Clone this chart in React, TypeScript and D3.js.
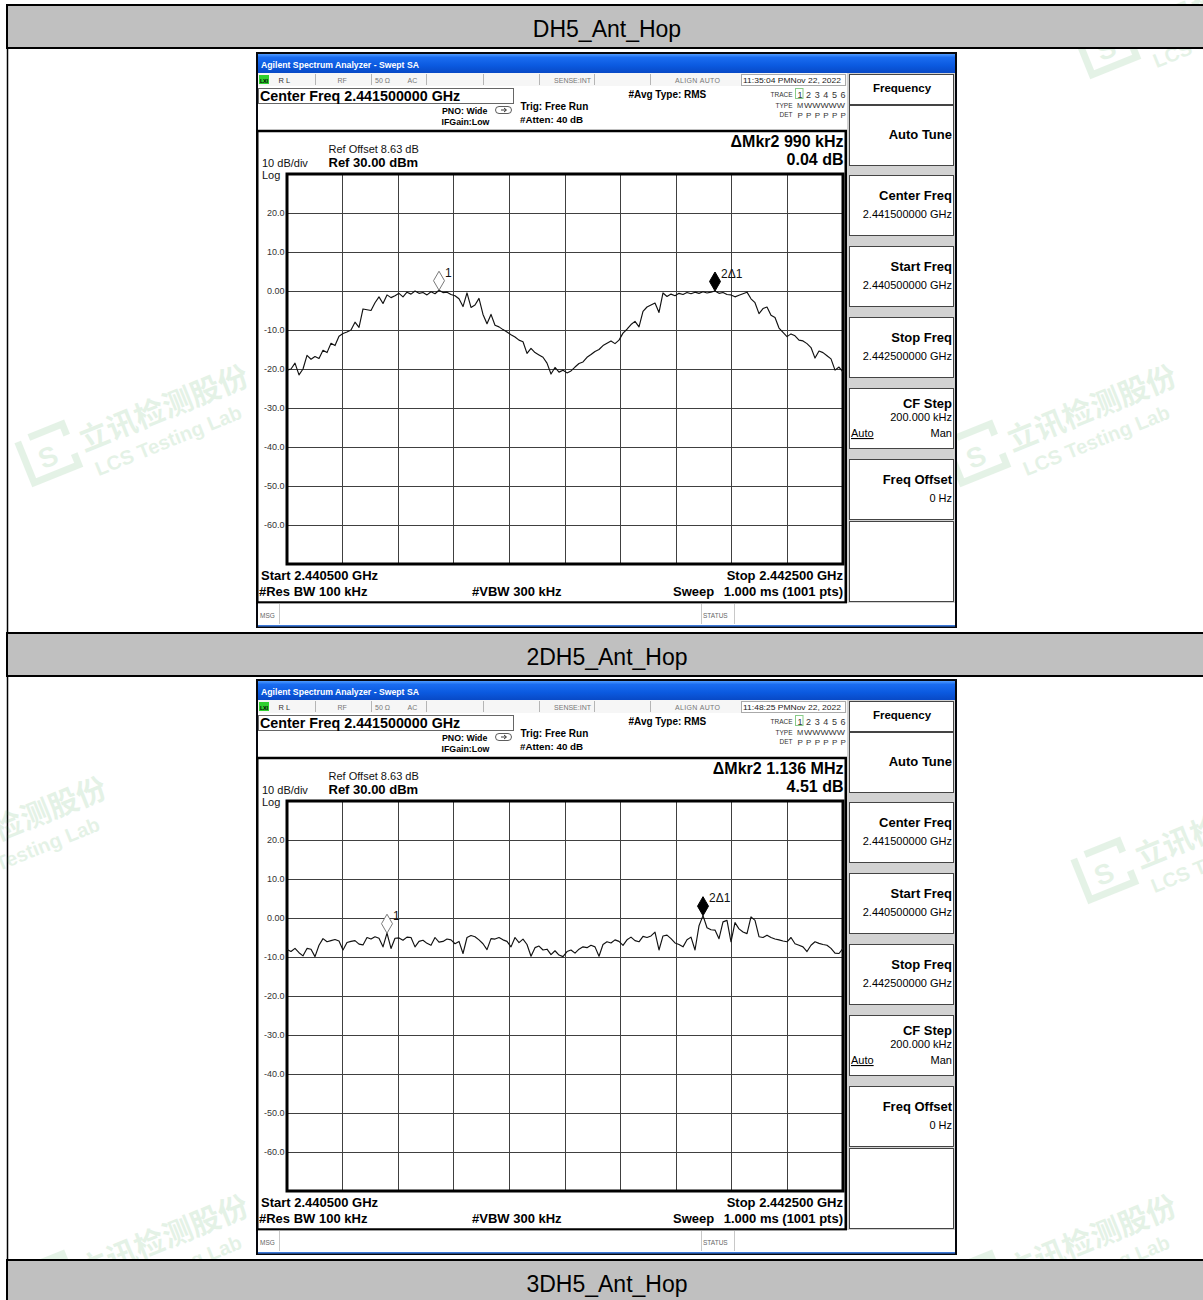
import { useEffect, useRef } from 'react';
import * as d3 from 'd3';

const FONT = "'Liberation Sans', Arial, Helvetica, sans-serif";

// report table
const SECTION_TITLES = ['DH5_Ant_Hop', '2DH5_Ant_Hop', '3DH5_Ant_Hop'];
const HEADER_TOPS = [5, 633, 1260];
const HEADER_H = 43;
const SCREEN_TOPS = [52, 679];
const SCREEN_X = 256;

// analyzer settings
const START_MHZ = 2440.5;
const STOP_MHZ = 2442.5;
const REF_DBM = 30;
const DB_PER_DIV = 10;
const X_DIVS = 10;
const Y_DIVS = 10;
const Y_TICKS = [20, 10, 0, -10, -20, -30, -40, -50, -60];
const Y_TICK_LABELS = ['20.0', '10.0', '0.00', '-10.0', '-20.0', '-30.0', '-40.0', '-50.0', '-60.0'];

const SOFTKEYS = [
  ['Center Freq', '2.441500000 GHz'],
  ['Start Freq', '2.440500000 GHz'],
  ['Stop Freq', '2.442500000 GHz'],
  ['CF Step', '200.000 kHz'],
  ['Freq Offset', '0 Hz'],
];

// trace 1 (DH5), evenly spaced over the span
const DH5_TRACE = [
  -20.3, -20.0, -18.5, -21.5, -20.0, -16.5, -17.5, -16.8, -17.3, -15.2,
  -15.8, -13.4, -14.0, -11.6, -10.9, -10.5, -10.0, -8.0, -9.3, -4.6,
  -4.8, -5.0, -3.0, -1.5, -3.2, -1.0, -1.7, -1.2, -0.6, -1.5,
  -0.3, -0.8, 0.0, -0.6, -0.4, -1.0, -0.2, -0.7, 0.2, -0.4,
  -0.3, -0.9, -1.2, -2.0, -4.0, -0.5, -4.2, -3.6, -1.9, -6.0,
  -8.4, -6.0, -8.8, -9.2, -9.9, -10.5, -11.2, -11.8, -12.6, -13.0,
  -16.0, -14.7, -15.8, -16.4, -17.0, -18.5, -21.3, -19.6, -20.8, -20.3,
  -21.0, -20.5, -19.5, -18.6, -18.2, -17.0, -16.3, -15.5, -15.0, -14.0,
  -13.4, -12.8, -13.5, -12.6, -10.8, -9.8, -8.6, -7.8, -9.2, -5.2,
  -4.1, -3.6, -3.1, -5.5, -0.5, -1.4, -0.8, -1.2, -0.6, -0.9,
  -0.4, -0.7, -0.3, -0.6, -0.2, -0.5, -0.3, 0.0, -0.6, -0.4,
  -0.9, -1.0, -1.5, -1.1, -0.7, -0.3, -2.0, -3.0, -5.8, -4.5,
  -4.1, -6.2, -6.8, -9.5, -10.6, -11.7, -11.0, -11.5, -12.6, -12.8,
  -13.5, -14.5, -17.2, -15.4, -15.8, -16.6, -17.4, -20.3, -19.5, -20.8,
];
const DH5_MARKERS = [38, 107];
const DH5_TIME = '11:35:04 PM';
const DH5_DELTA = ['ΔMkr2 990 kHz', '0.04 dB'];

// trace 2 (2DH5)
const DH5_2_TRACE = [
  -8.1, -8.6, -7.8, -8.9, -9.7, -7.8, -8.0, -9.9, -7.0, -5.3,
  -6.1, -5.8, -5.5, -5.9, -8.2, -6.3, -6.0, -5.8, -6.7, -6.9,
  -5.0, -5.4, -4.8, -5.2, -7.4, -3.9, -7.8, -5.2, -5.1, -5.7,
  -4.9, -5.0, -7.4, -6.0, -5.7, -6.5, -7.0, -5.0, -6.2, -6.0,
  -5.4, -5.6, -6.6, -6.0, -9.1, -5.0, -4.5, -4.8, -5.6, -6.6,
  -8.1, -5.3, -5.4, -5.0, -5.6, -6.0, -7.4, -5.0, -6.3, -5.4,
  -6.8, -9.8, -7.6, -7.2, -8.2, -8.0, -9.4, -8.4, -9.5, -9.9,
  -8.6, -8.2, -9.0, -8.0, -7.4, -7.6, -7.0, -7.4, -9.8, -6.8,
  -6.1, -6.4, -5.6, -6.0, -7.0, -5.6, -4.9, -5.8, -6.1, -4.7,
  -5.0, -4.6, -3.6, -8.2, -4.6, -4.4, -5.3, -6.4, -6.8, -7.4,
  -5.6, -4.9, -8.2, -2.0, 0.6, -2.5, -3.0, -3.1, -5.3, -1.0,
  -0.6, -6.1, -1.2, -2.8, -3.6, -4.0, 0.3, -0.6, -4.8, -5.0,
  -4.4, -5.0, -5.4, -5.6, -5.9, -6.1, -5.0, -6.6, -7.0, -7.4,
  -8.6, -7.0, -6.1, -6.5, -6.8, -7.0, -7.8, -9.0, -9.1, -7.8,
];
const DH5_2_MARKERS = [25, 104];
const DH5_2_TIME = '11:48:25 PM';
const DH5_2_DELTA = ['ΔMkr2 1.136 MHz', '4.51 dB'];

const WATERMARKS = [
  [32, 488], [960, 488], [-110, 900], [1088, 905], [32, 1318], [960, 1318], [1090, 80],
];

type Sel = d3.Selection<any, unknown, null, undefined>;

function txt(g: Sel, x: number, y: number, s: string, size: number, o: any = {}) {
  return g.append('text')
    .attr('x', x).attr('y', y)
    .attr('font-family', o.family || FONT)
    .attr('font-size', size)
    .attr('font-weight', o.bold ? 700 : 400)
    .attr('fill', o.fill || '#000')
    .attr('text-anchor', o.anchor || 'start')
    .text(s);
}

function drawWatermark(svg: Sel, x: number, y: number) {
  const c = '#3aa04a';
  const g = svg.append('g')
    .attr('transform', `translate(${x},${y}) rotate(-22)`)
    .attr('opacity', 0.13);
  g.append('path')
    .attr('d', 'M4,-48 L4,-4 L52,-4 L52,-16 M16,-48 L52,-48 L52,-36')
    .attr('fill', 'none').attr('stroke', c).attr('stroke-width', 7);
  txt(g, 17, -13, 'S', 28, { bold: true, fill: c });
  txt(g, 62, -14, '立讯检测股份', 30, { bold: true, fill: c, family: "'Noto Sans CJK SC', sans-serif" });
  txt(g, 66, 14, 'LCS Testing Lab', 20, { bold: true, fill: c });
}

function drawScreen(svg: Sel, oy: number, trace: number[], markers: number[], time: string, delta: string[]) {
  const g = svg.append('g').attr('transform', `translate(${SCREEN_X},${oy})`);
  const W = 701;
  const H = 576;

  g.append('rect').attr('width', W).attr('height', H).attr('fill', '#05070d');

  // title bar
  g.append('rect').attr('x', 2).attr('y', 2).attr('width', W - 4).attr('height', 19).attr('fill', 'url(#xpTitle)');
  txt(g, 5, 16, 'Agilent Spectrum Analyzer - Swept SA', 8.5, { bold: true, fill: '#fff' })
    .attr('textLength', 158).attr('lengthAdjust', 'spacingAndGlyphs');

  // body
  g.append('rect').attr('x', 2).attr('y', 21).attr('width', W - 4).attr('height', 552).attr('fill', '#fff');

  // status row
  g.append('rect').attr('x', 2).attr('y', 21).attr('width', 589).attr('height', 13).attr('fill', '#f6f6f6');
  [59, 115, 170, 227, 283, 338, 394].forEach(sx => {
    g.append('line').attr('x1', sx + 0.5).attr('x2', sx + 0.5).attr('y1', 22).attr('y2', 33)
      .attr('stroke', '#b5b5b5');
  });
  g.append('rect').attr('x', 3).attr('y', 23).attr('width', 10).attr('height', 9).attr('fill', '#2fcf2f');
  txt(g, 4, 30.5, 'LXI', 5.5, { bold: true }).attr('textLength', 8);
  txt(g, 22.5, 31, 'R L', 7.5, { fill: '#333' });
  txt(g, 81.5, 31, 'RF', 7, { fill: '#777' });
  txt(g, 119, 31, '50 Ω', 7, { fill: '#777' });
  txt(g, 151.5, 31, 'AC', 7, { fill: '#777' });
  txt(g, 335, 31, 'SENSE:INT', 7, { fill: '#777', anchor: 'end' });
  txt(g, 419, 31, 'ALIGN AUTO', 7, { fill: '#777' }).attr('textLength', 45);
  g.append('rect').attr('x', 485.5).attr('y', 22.5).attr('width', 104).attr('height', 11)
    .attr('fill', '#fff').attr('stroke', '#aaa');
  txt(g, 487, 31, `${time}Nov 22, 2022`, 7.5, { fill: '#222' })
    .attr('textLength', 98).attr('lengthAdjust', 'spacingAndGlyphs');

  // setup area
  g.append('rect').attr('x', 2.5).attr('y', 36.5).attr('width', 255).attr('height', 15)
    .attr('fill', '#fff').attr('stroke', '#666');
  txt(g, 4, 49, 'Center Freq 2.441500000 GHz', 14.3, { bold: true });
  txt(g, 186, 61.5, 'PNO: Wide', 8.8, { bold: true });
  txt(g, 185.5, 72.5, 'IFGain:Low', 8.8, { bold: true });
  g.append('rect').attr('x', 239.5).attr('y', 54.5).attr('width', 16).attr('height', 7).attr('rx', 3.5)
    .attr('fill', 'none').attr('stroke', '#333').attr('stroke-width', 0.8);
  g.append('path').attr('d', 'M245,58 L250,58 M248,56 L250.5,58 L248,60')
    .attr('fill', 'none').attr('stroke', '#222').attr('stroke-width', 0.9);
  txt(g, 264.5, 57.5, 'Trig: Free Run', 10, { bold: true });
  txt(g, 264, 71, '#Atten: 40 dB', 9.8, { bold: true });
  txt(g, 372.5, 46, '#Avg Type: RMS', 10, { bold: true });

  txt(g, 536.5, 45, 'TRACE', 6.5, { fill: '#333', anchor: 'end' });
  txt(g, 536.5, 55.5, 'TYPE', 6.5, { fill: '#333', anchor: 'end' });
  txt(g, 536.5, 65, 'DET', 6.5, { fill: '#333', anchor: 'end' });
  g.append('rect').attr('x', 539.5).attr('y', 36.5).attr('width', 7.5).attr('height', 10)
    .attr('fill', 'none').attr('stroke', '#8c8');
  d3.range(6).forEach(k => {
    const tx = 541.5 + k * 8.6;
    txt(g, tx, 45.5, String(k + 1), 9, { fill: '#333' });
    txt(g, tx, 65.5, 'P', 8, { fill: '#333' });
  });
  txt(g, 541, 55.5, 'M', 7.5, { fill: '#333' });
  txt(g, 548, 55.5, 'WWWWW', 7, { fill: '#333' }).attr('textLength', 41).attr('lengthAdjust', 'spacingAndGlyphs');

  // display frame
  g.append('rect').attr('x', 1.25).attr('y', 79).attr('width', 588.5).attr('height', 471.5)
    .attr('fill', '#fff').attr('stroke', '#000').attr('stroke-width', 2.5);

  txt(g, 72.5, 101, 'Ref Offset 8.63 dB', 11, { fill: '#111' });
  txt(g, 72.5, 115, 'Ref 30.00 dBm', 13, { bold: true });
  txt(g, 6, 115, '10 dB/div', 11, { fill: '#111' });
  txt(g, 6, 126.5, 'Log', 11, { fill: '#111' });
  txt(g, 587.5, 95, delta[0], 16, { bold: true, anchor: 'end' });
  txt(g, 587.5, 112.5, delta[1], 16, { bold: true, anchor: 'end' });

  // graticule
  const x = d3.scaleLinear().domain([START_MHZ, STOP_MHZ]).range([31, 587]);
  const y = d3.scaleLinear().domain([REF_DBM - Y_DIVS * DB_PER_DIV, REF_DBM]).range([512, 122]);
  const span = STOP_MHZ - START_MHZ;
  const grid = g.append('g').attr('stroke', '#404040').attr('stroke-width', 1).attr('shape-rendering', 'crispEdges');
  d3.range(1, X_DIVS).forEach(i => {
    const gx = x(START_MHZ + (i * span) / X_DIVS);
    grid.append('line').attr('x1', gx).attr('x2', gx).attr('y1', y(REF_DBM)).attr('y2', y(REF_DBM - Y_DIVS * DB_PER_DIV));
  });
  Y_TICKS.forEach((v, i) => {
    grid.append('line').attr('x1', x(START_MHZ)).attr('x2', x(STOP_MHZ)).attr('y1', y(v)).attr('y2', y(v));
    txt(g, 28.5, y(v) + 3.3, Y_TICK_LABELS[i], 9, { fill: '#333', anchor: 'end' });
  });
  g.append('rect').attr('x', x(START_MHZ)).attr('y', y(REF_DBM))
    .attr('width', x(STOP_MHZ) - x(START_MHZ))
    .attr('height', y(REF_DBM - Y_DIVS * DB_PER_DIV) - y(REF_DBM))
    .attr('fill', 'none').attr('stroke', '#000').attr('stroke-width', 3);

  // trace
  const freqOf = (i: number) => START_MHZ + (i * span) / (trace.length - 1);
  const line = d3.line<number>().x((_, i) => x(freqOf(i))).y(d => y(d));
  g.append('path').attr('d', line(trace) || '')
    .attr('fill', 'none').attr('stroke', '#111').attr('stroke-width', 1.15).attr('stroke-linejoin', 'round');

  // markers
  markers.forEach((mi, k) => {
    const mx = x(freqOf(mi));
    const my = y(trace[mi]);
    g.append('path')
      .attr('d', `M${mx},${my} L${mx + 5.5},${my - 9.5} L${mx},${my - 19} L${mx - 5.5},${my - 9.5} Z`)
      .attr('fill', k === 0 ? '#fff' : '#000')
      .attr('stroke', k === 0 ? '#7a7a7a' : '#000').attr('stroke-width', 1);
    txt(g, mx + 6, my - 13.5, k === 0 ? '1' : '2Δ1', 12, { fill: '#111' });
  });

  // bottom annotations
  txt(g, 5, 528, 'Start 2.440500 GHz', 13, { bold: true });
  txt(g, 3, 544, '#Res BW 100 kHz', 13, { bold: true });
  txt(g, 216, 544, '#VBW 300 kHz', 13, { bold: true });
  txt(g, 587, 528, 'Stop 2.442500 GHz', 13, { bold: true, anchor: 'end' });
  txt(g, 417, 544, 'Sweep', 13, { bold: true });
  txt(g, 587, 544, '1.000 ms (1001 pts)', 13, { bold: true, anchor: 'end' });

  // message bar
  g.append('rect').attr('x', 2).attr('y', 551.5).attr('width', W - 4).attr('height', 21.5).attr('fill', '#fff');
  [23.5, 445.5, 478.5].forEach(sx => {
    g.append('line').attr('x1', sx).attr('x2', sx).attr('y1', 552).attr('y2', 572).attr('stroke', '#c8c8c8');
  });
  txt(g, 4, 566, 'MSG', 6.5, { fill: '#666' });
  txt(g, 447, 566, 'STATUS', 6.5, { fill: '#666' });
  g.append('rect').attr('x', 2).attr('y', 573).attr('width', W - 4).attr('height', 1.6).attr('fill', '#3c78d8');

  // softkey panel
  g.append('rect').attr('x', 591).attr('y', 21).attr('width', 108).attr('height', 530).attr('fill', '#d2d2d2');
  const key = (ky: number, kh: number) =>
    g.append('rect').attr('x', 593.5).attr('y', ky + 0.5).attr('width', 104).attr('height', kh)
      .attr('fill', '#fff').attr('stroke', '#444');
  key(22, 30);
  txt(g, 646, 40, 'Frequency', 11.5, { bold: true, anchor: 'middle' });
  key(53, 60);
  txt(g, 696, 87, 'Auto Tune', 13, { bold: true, anchor: 'end' });
  SOFTKEYS.forEach(([label, value], k) => {
    const ky = 123 + k * 71;
    key(ky, 60);
    if (label === 'CF Step') {
      txt(g, 696, ky + 19.5, label, 13, { bold: true, anchor: 'end' });
      txt(g, 696, ky + 33, value, 11, { anchor: 'end' });
      txt(g, 595, ky + 49, 'Auto', 11, {}).attr('text-decoration', 'underline');
      txt(g, 696, ky + 49, 'Man', 11, { anchor: 'end' });
    } else {
      txt(g, 696, ky + 24.5, label, 13, { bold: true, anchor: 'end' });
      txt(g, 696, ky + 43, value, 11, { anchor: 'end' });
    }
  });
  key(469, 80);
}

export default function App() {
  const svgRef = useRef<SVGSVGElement>(null);

  useEffect(() => {
    if (!svgRef.current) return;
    const svg = d3.select(svgRef.current) as unknown as Sel;
    svg.selectAll('*').remove();

    const defs = svg.append('defs');
    const grad = defs.append('linearGradient').attr('id', 'xpTitle')
      .attr('x1', 0).attr('y1', 0).attr('x2', 0).attr('y2', 1);
    [['0%', '#4f9bff'], ['18%', '#1a6cf0'], ['60%', '#0b5ae0'], ['100%', '#0849c6']].forEach(([o, c]) => {
      grad.append('stop').attr('offset', o).attr('stop-color', c);
    });

    svg.append('rect').attr('width', 1203).attr('height', 1300).attr('fill', '#fff');

    // content cell left borders
    HEADER_TOPS.forEach((top, i) => {
      const next = i + 1 < HEADER_TOPS.length ? HEADER_TOPS[i + 1] : 1300;
      svg.append('line').attr('x1', 7.5).attr('x2', 7.5).attr('y1', top + HEADER_H).attr('y2', next)
        .attr('stroke', '#000').attr('stroke-width', 1.5);
    });

    WATERMARKS.forEach(([wx, wy]) => drawWatermark(svg, wx, wy));

    // section headers
    HEADER_TOPS.forEach((top, i) => {
      svg.append('rect').attr('x', 7).attr('y', top).attr('width', 1210).attr('height', HEADER_H)
        .attr('fill', '#c0c0c0').attr('stroke', '#000').attr('stroke-width', 2);
      txt(svg, 607, top + 31.5, SECTION_TITLES[i], 23, { anchor: 'middle' });
    });

    drawScreen(svg, SCREEN_TOPS[0], DH5_TRACE, DH5_MARKERS, DH5_TIME, DH5_DELTA);
    drawScreen(svg, SCREEN_TOPS[1], DH5_2_TRACE, DH5_2_MARKERS, DH5_2_TIME, DH5_2_DELTA);
  }, []);

  return (
    <svg
      ref={svgRef}
      width={1203}
      height={1300}
      style={{ position: 'absolute', left: 0, top: 0, display: 'block' }}
    />
  );
}
